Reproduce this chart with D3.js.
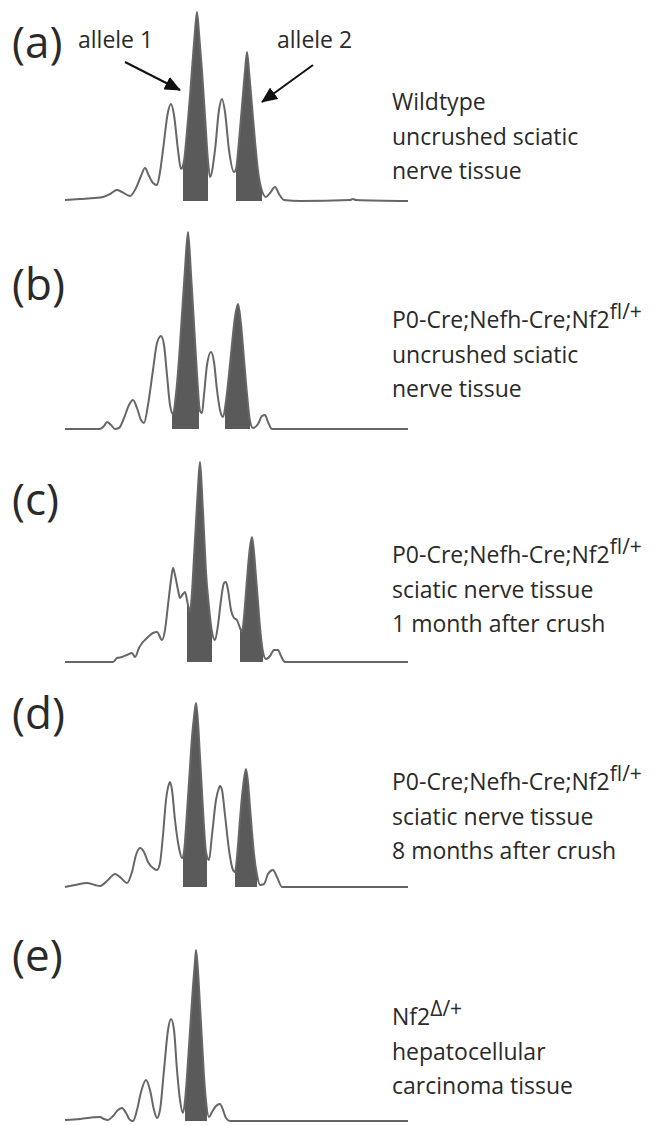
<!DOCTYPE html>
<html>
<head>
<meta charset="utf-8">
<script src="https://cdn.jsdelivr.net/npm/d3@7"></script>
<style>
body { margin: 0; background: #fff; }
svg text { font-family: "Open Sans", sans-serif; fill: #2a2a2a; }
</style>
</head>
<body>
<div class="chart"></div>
<script>
// Fragment analysis traces: [scan position, signal]
var traceA = [[0,1],[15,2],[30,3],[38,4],[45,7],[52,11],[57,9],[65,5],[71,13],[76,25],[80,33],[84,25],[88,18],[92,16],[95,29],[98,51],[103,89],[106,97],[109,86],[113,51],[116,32],[119,40],[122,70],[125,105],[128,145],[130,170],[132,189],[134,168],[137,130],[140,85],[143,40],[145,24],[150,51],[154,91],[157,102],[160,89],[164,51],[169,29],[171,32],[174,60],[177,95],[180,130],[182,149],[184,130],[187,95],[190,60],[193,30],[197,10],[201,4],[205,8],[210,14],[214,7],[219,1],[235,0],[285,1],[288,2],[291,1],[343,0]];
var traceB = [[0,0],[35,0],[39,3],[42,7],[46,4],[50,0],[54,1],[59,11],[64,24],[68,29],[72,21],[76,9],[79,6],[83,24],[88,59],[92,86],[96,93],[99,84],[102,54],[105,24],[108,15],[111,35],[114,70],[117,115],[120,160],[123,197],[126,155],[129,105],[132,55],[135,18],[137,16],[139,34],[142,64],[146,77],[149,67],[152,39],[155,19],[158,12],[161,28],[164,55],[167,85],[170,112],[173,125],[176,105],[179,70],[182,35],[185,8],[188,1],[193,5],[197,13],[200,14],[203,7],[207,0],[343,0]];
var traceC = [[0,0],[48,0],[52,4],[57,5],[62,7],[67,9],[70,5],[74,14],[78,20],[83,25],[88,29],[92,30],[97,22],[100,32],[103,57],[106,82],[108,94],[110,87],[113,72],[115,64],[118,68],[120,70],[123,57],[125,50],[127,70],[129,105],[131,140],[133,175],[135,200],[137,170],[139,130],[141,90],[144,55],[147,30],[150,22],[153,37],[156,62],[159,79],[161,80],[163,72],[166,52],[169,44],[172,42],[175,34],[177,30],[179,45],[181,70],[183,95],[185,115],[187,125],[189,110],[191,85],[193,60],[195,35],[198,10],[201,3],[205,6],[209,12],[213,12],[216,6],[220,0],[343,0]];
var traceD = [[0,0],[10,2],[22,4],[30,2],[35,1],[43,7],[50,13],[56,9],[62,4],[67,15],[71,32],[75,39],[79,35],[83,25],[88,19],[92,17],[95,24],[98,52],[101,87],[104,103],[105,105],[107,97],[110,67],[114,39],[117,29],[119,35],[121,60],[123,90],[125,120],[127,150],[129,170],[131,184],[133,165],[135,130],[137,95],[139,60],[141,35],[144,27],[147,52],[151,87],[154,99],[155,101],[157,97],[160,72],[164,37],[168,17],[170,15],[172,30],[174,55],[176,80],[178,100],[181,118],[183,105],[185,80],[187,55],[189,33],[192,12],[195,2],[199,3],[203,13],[208,17],[212,10],[217,0],[343,0]];
var traceE = [[0,1],[15,2],[35,4],[39,2],[43,1],[48,5],[53,11],[57,13],[61,8],[65,1],[68,0],[72,11],[76,29],[81,41],[85,31],[89,11],[92,3],[95,11],[99,51],[103,91],[106,102],[109,91],[112,51],[115,21],[118,8],[120,20],[122,45],[124,75],[126,105],[128,135],[130,160],[131,171],[133,150],[135,115],[137,80],[139,45],[141,20],[144,4],[147,9],[151,15],[155,17],[158,11],[161,3],[165,0],[343,0]];

// shaded allele peaks, [from, to] in scan position
var allelesA = [[118,143],[171,197]];
var allelesB = [[107,134],[160,185]];
var allelesC = [[122,147],[175,198]];
var allelesD = [[118,142],[170,192]];
var allelesE = [[120,142]];

var panelLetters = ["(a)", "(b)", "(c)", "(d)", "(e)"];
var genotypes = [["Wildtype", ""], ["P0-Cre;Nefh-Cre;Nf2", "fl/+"], ["P0-Cre;Nefh-Cre;Nf2", "fl/+"], ["P0-Cre;Nefh-Cre;Nf2", "fl/+"], ["Nf2", "\u0394/+"]];
var tissues = [["uncrushed sciatic", "nerve tissue"], ["uncrushed sciatic", "nerve tissue"], ["sciatic nerve tissue", "1 month after crush"], ["sciatic nerve tissue", "8 months after crush"], ["hepatocellular", "carcinoma tissue"]];

// allele annotations in panel (a): label, tail [pos, signal], tip [pos, signal]
var alleleNotes = [["allele 1", [60,139], [115,111]], ["allele 2", [248,136], [197,99]]];

var traces = [traceA, traceB, traceC, traceD, traceE];
var alleles = [allelesA, allelesB, allelesC, allelesD, allelesE];

var svgWidth = 669;
var svgHeight = 1125;
var baselines = [201, 429, 662, 887, 1121];
var letterY = [58, 300, 515, 729, 971];
var textY = [110, 328, 563, 790, 1025];
var lineGap = 34.5;

var svg = d3.select(".chart")
    .append("svg")
    .attr("width", svgWidth)
    .attr("height", svgHeight);

var defs = svg.append("defs");
defs.append("marker")
    .attr("id", "head")
    .attr("markerUnits", "userSpaceOnUse")
    .attr("viewBox", "0 0 16 14")
    .attr("markerWidth", 16)
    .attr("markerHeight", 14)
    .attr("refX", 15)
    .attr("refY", 7)
    .attr("orient", "auto")
    .append("path")
    .attr("d", "M0,0L16,7L0,14Z")
    .attr("fill", "#111");

var xScale = d3.scaleLinear().domain([0, 343]).range([65, 408]);

traces.forEach(function(trace, i) {
    var base = baselines[i];
    var yScale = d3.scaleLinear().domain([0, 200]).range([base, base - 200]);
    var g = svg.append("g").attr("class", "panel");

    var line = d3.line()
        .x(function(d) { return xScale(d[0]); })
        .y(function(d) { return yScale(d[1]); })
        .curve(d3.curveMonotoneX);
    var area = d3.area()
        .x(function(d) { return xScale(d[0]); })
        .y0(yScale(0))
        .y1(function(d) { return yScale(d[1]); })
        .curve(d3.curveMonotoneX);

    // filled allele peaks, clipped to their size window
    alleles[i].forEach(function(r, j) {
        var id = "clip" + i + "_" + j;
        defs.append("clipPath").attr("id", id)
            .append("rect")
            .attr("x", xScale(r[0]))
            .attr("y", yScale(210))
            .attr("width", xScale(r[1]) - xScale(r[0]))
            .attr("height", yScale(0) - yScale(210) + 1);
        g.append("path")
            .datum(trace)
            .attr("clip-path", "url(#" + id + ")")
            .attr("d", area)
            .attr("fill", "#5a5a5a");
    });

    g.append("path")
        .datum(trace)
        .attr("d", line)
        .attr("fill", "none")
        .attr("stroke", "#666")
        .attr("stroke-width", 2)
        .attr("stroke-linejoin", "round");

    g.append("text")
        .attr("x", 12)
        .attr("y", letterY[i])
        .style("font-size", "44px")
        .text(panelLetters[i]);

    var t1 = g.append("text")
        .attr("x", 392)
        .attr("y", textY[i])
        .style("font-size", "23px");
    t1.append("tspan").text(genotypes[i][0]);
    if (genotypes[i][1]) {
        t1.append("tspan")
            .attr("dy", -9)
            .style("font-size", "21px")
            .text(genotypes[i][1]);
    }
    tissues[i].forEach(function(s, k) {
        g.append("text")
            .attr("x", 392)
            .attr("y", textY[i] + lineGap * (k + 1))
            .style("font-size", "23px")
            .text(s);
    });

    if (i === 0) {
        alleleNotes.forEach(function(n, k) {
            g.append("line")
                .attr("x1", xScale(n[1][0]))
                .attr("y1", yScale(n[1][1]))
                .attr("x2", xScale(n[2][0]))
                .attr("y2", yScale(n[2][1]))
                .attr("stroke", "#111")
                .attr("stroke-width", 2)
                .attr("marker-end", "url(#head)");
            g.append("text")
                .attr("x", k === 0 ? 78 : 277)
                .attr("y", 48)
                .style("font-size", "23px")
                .text(n[0]);
        });
    }
});
</script>
</body>
</html>
